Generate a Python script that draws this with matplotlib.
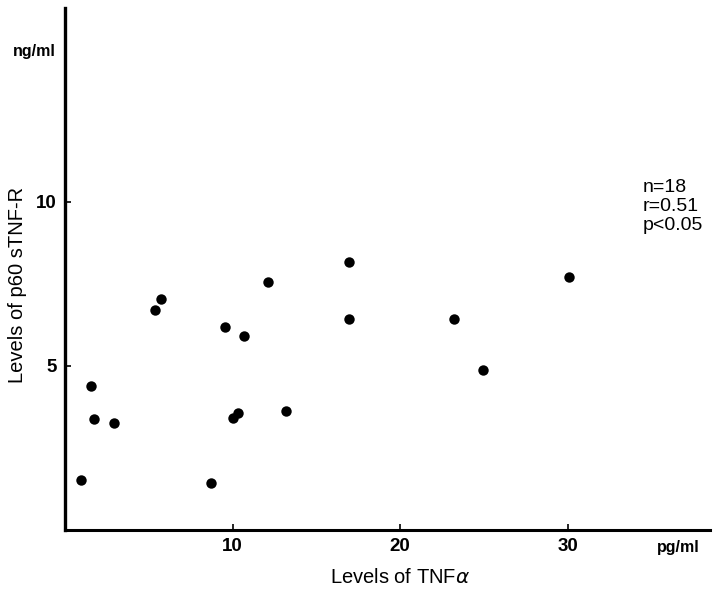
import matplotlib
matplotlib.use('Agg')
import matplotlib.pyplot as plt

# TNF-alpha (pg/ml) vs p60 sTNF-R (ng/ml)
tnf_alpha = [0.96, 1.55, 1.73, 2.93, 5.37, 5.73, 8.72, 9.55, 10.03,
             10.33, 10.69, 12.12, 13.19, 16.96, 16.96, 23.2, 24.96, 30.1]
p60_stnfr = [1.52, 4.38, 3.38, 3.25, 6.69, 7.03, 1.43, 6.17, 3.41,
             3.56, 5.9, 7.57, 3.62, 8.18, 6.42, 6.42, 4.87, 7.7]
x_ticks = [10, 20, 30]
y_ticks = [5, 10]
stats_text = "n=18\nr=0.51\np<0.05"

plt.rcParams['font.family'] = ['Liberation Sans', 'DejaVu Sans']

fig = plt.figure(figsize=(7.2, 5.89), dpi=100)
ax = fig.add_axes([0.0903, 0.1002, 0.896, 0.886])

ax.plot(tnf_alpha, p60_stnfr, 'o', color='black', markersize=7.5, markeredgewidth=0)

ax.set_xlim(0, 38.5)
ax.set_ylim(0, 15.9)
ax.set_xticks(x_ticks)
ax.set_yticks(y_ticks)
ax.tick_params(direction='in', length=4, width=1.2, labelsize=13.5, pad=6)
for lab in ax.get_xticklabels() + ax.get_yticklabels():
    lab.set_fontweight('bold')

for side in ('top', 'right'):
    ax.spines[side].set_visible(False)
ax.spines['left'].set_linewidth(2.4)
ax.spines['bottom'].set_linewidth(2.2)

ax.set_xlabel('Levels of TNF$\\alpha$', fontsize=14.5)
ax.xaxis.set_label_coords(0.52, -0.072)
ax.set_ylabel('Levels of p60 sTNF-R', fontsize=14.5)
ax.yaxis.set_label_coords(-0.059, 0.469)

ax.text(0.950, -0.034, 'pg/ml', transform=ax.transAxes, fontsize=11.5,
        fontweight='bold', ha='center', va='center')
ax.text(-0.047, 0.916, 'ng/ml', transform=ax.transAxes, fontsize=11.5,
        fontweight='bold', ha='center', va='center')
ax.text(0.896, 0.672, stats_text, transform=ax.transAxes, fontsize=14,
        ha='left', va='top', linespacing=1.15)

fig.savefig('out.png', dpi=100)
